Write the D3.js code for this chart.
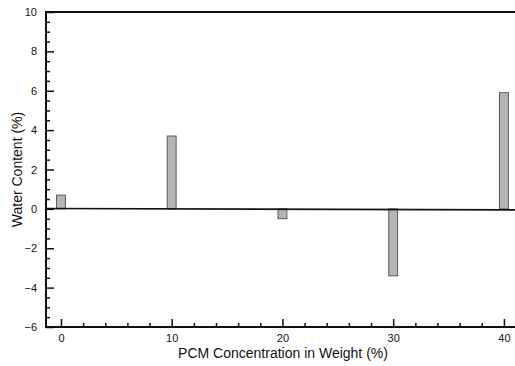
<!DOCTYPE html>
<html>
<head>
<meta charset="utf-8">
<script src="https://cdn.jsdelivr.net/npm/d3@7"></script>
<style>
  html, body { margin: 0; padding: 0; background: #fff; }
  svg { display: block; font-family: "Liberation Sans", Arial, Helvetica, sans-serif; }
</style>
</head>
<body>
<svg id="chart" width="515" height="366"></svg>
<script>
// PCM concentration (wt %) and the change in water content (%)
const concentrations = [0, 10, 20, 30, 40];
const waterContent = [0.7, 3.7, -0.5, -3.4, 5.9];

// Reference line drawn across the plot near zero
const baselineX = [-1.35, 41];
const baselineY = [0.02, -0.05];

const xMajorTicks = [0, 10, 20, 30, 40];
const yMajorTicks = [-6, -4, -2, 0, 2, 4, 6, 8, 10];

(function drawChart() {
  const svg = d3.select("#chart");
  const plotLeft = 46, plotRight = 515, plotTop = 12, plotBottom = 327;

  const x = d3.scaleLinear().domain([-1.35, 41]).range([plotLeft, plotRight]);
  const y = d3.scaleLinear().domain([-6, 10]).range([plotBottom, plotTop]);

  const ink = "#111";

  // Bars
  const barW = x(0.8) - x(0);
  svg.append("g").selectAll("rect")
    .data(concentrations.map((c, i) => ({ c, v: waterContent[i] })))
    .join("rect")
    .attr("x", d => x(d.c) - barW / 2)
    .attr("y", d => y(Math.max(0, d.v)))
    .attr("width", barW)
    .attr("height", d => Math.abs(y(d.v) - y(0)))
    .attr("fill", "#b5b5b5")
    .attr("stroke", "#5a5a5a")
    .attr("stroke-width", 1);

  // Zero reference line
  svg.append("line")
    .attr("x1", x(baselineX[0])).attr("y1", y(baselineY[0]))
    .attr("x2", x(baselineX[1])).attr("y2", y(baselineY[1]))
    .attr("stroke", ink).attr("stroke-width", 1.6);

  // Y axis: ticks point inward
  const yMinor = d3.range(-6, 10.001, 0.5).filter(v => !yMajorTicks.includes(v));
  const yAxis = d3.axisLeft(y).tickValues(yMajorTicks).tickSize(-8).tickPadding(9).tickFormat(d3.format("d"));
  const yAxisMinor = d3.axisLeft(y).tickValues(yMinor).tickSize(-4).tickFormat("");
  const gyMinor = svg.append("g").attr("transform", `translate(${plotLeft},0)`).call(yAxisMinor);
  const gy = svg.append("g").attr("transform", `translate(${plotLeft},0)`).call(yAxis);

  // X axis: ticks point inward (up)
  const xMinor = d3.range(0, 41, 2).filter(v => !xMajorTicks.includes(v));
  const xAxis = d3.axisBottom(x).tickValues(xMajorTicks).tickSize(-8).tickPadding(7).tickFormat(d3.format("d"));
  const xAxisMinor = d3.axisBottom(x).tickValues(xMinor).tickSize(-4).tickFormat("");
  const gxMinor = svg.append("g").attr("transform", `translate(0,${plotBottom})`).call(xAxisMinor);
  const gx = svg.append("g").attr("transform", `translate(0,${plotBottom})`).call(xAxis);

  [gy, gx, gyMinor, gxMinor].forEach(g => {
    g.select(".domain").remove();
    g.selectAll(".tick line").attr("stroke", ink).attr("stroke-width", 1.5);
    g.selectAll(".tick text").attr("fill", ink).attr("font-size", 11);
  });

  // Frame lines: left, bottom, top
  svg.append("path")
    .attr("d", `M${plotRight},${plotTop}H${plotLeft}V${plotBottom}H${plotRight}`)
    .attr("fill", "none").attr("stroke", ink).attr("stroke-width", 2);

  // Axis titles
  svg.append("text")
    .attr("x", 283).attr("y", 358)
    .attr("text-anchor", "middle").attr("font-size", 14).attr("fill", ink)
    .text("PCM Concentration in Weight (%)");

  svg.append("text")
    .attr("transform", `translate(22,${(plotTop + plotBottom) / 2}) rotate(-90)`)
    .attr("text-anchor", "middle").attr("font-size", 14).attr("fill", ink)
    .text("Water Content (%)");
})();
</script>
</body>
</html>
